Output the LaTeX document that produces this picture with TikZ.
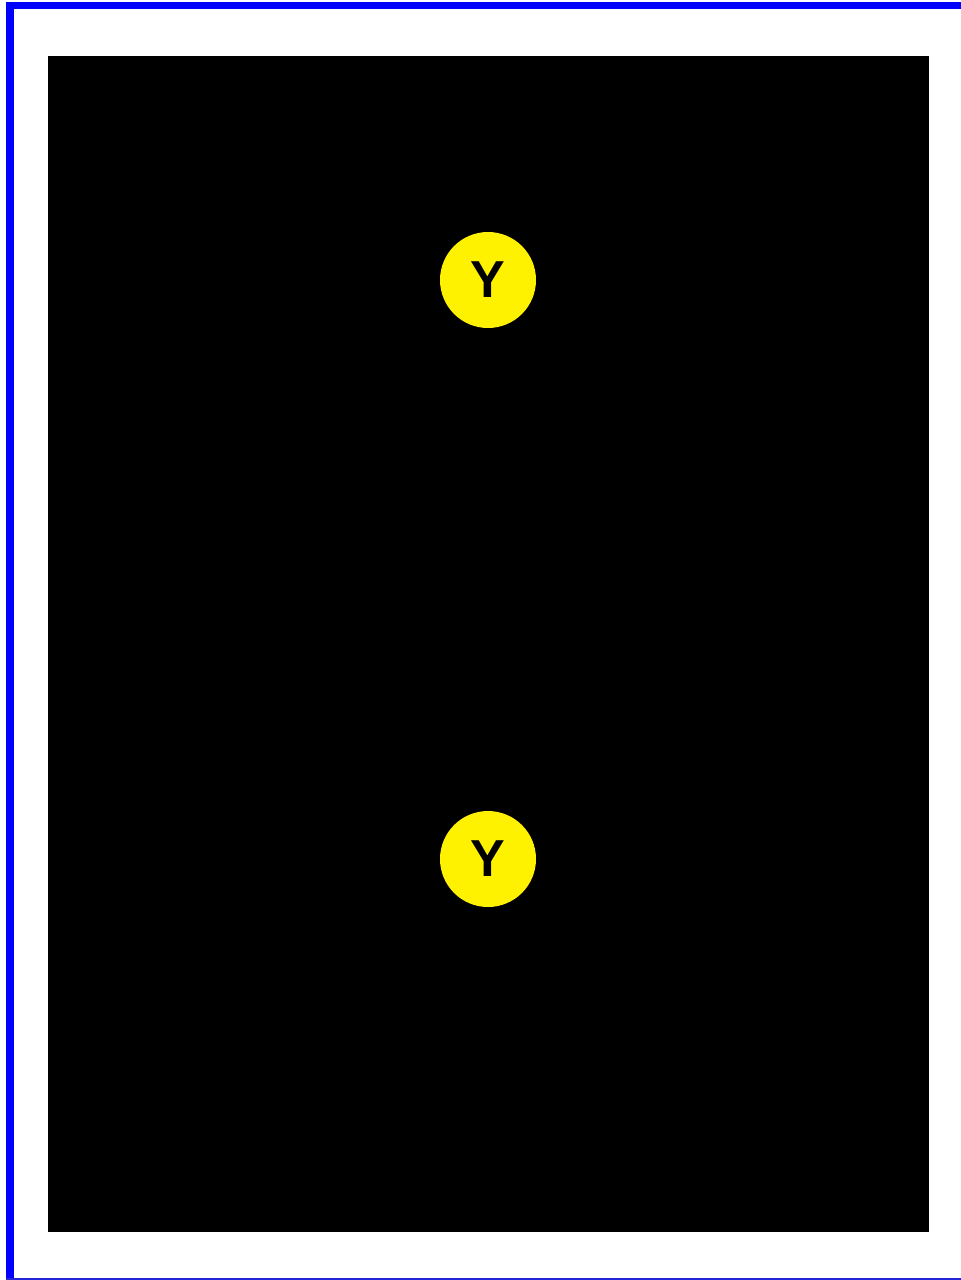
\documentclass[tikz,border=0pt]{standalone}
\usepackage{fontspec}
\setmainfont{Liberation Sans}
\usetikzlibrary{positioning}

\tikzset{ymark/.style = {circle, fill=yellow, inner sep=0pt, minimum size=48pt, font=\fontsize{26}{26}\selectfont\bfseries}}

\begin{document}
\begin{tikzpicture} [x = 0.5pt, y = -0.5pt]
\useasboundingbox (0,0) rectangle (961,1280);
\fill[white] (0,0) rectangle (961,1280);
% frame
\fill[blue] (6,2) rectangle (961,9);
\fill[blue] (6,2) rectangle (14,1280);
\fill[blue!70!gray] (6,1278) rectangle (961,1280);
% board
\fill[black] (48,56) rectangle (929,1232);
\node[ymark] (y1) at (488,280) {\raisebox{-1pt}{Y}};
\node[ymark] (y2) at (488,859) {\raisebox{-1pt}{Y}};
\end{tikzpicture}
\end{document}
